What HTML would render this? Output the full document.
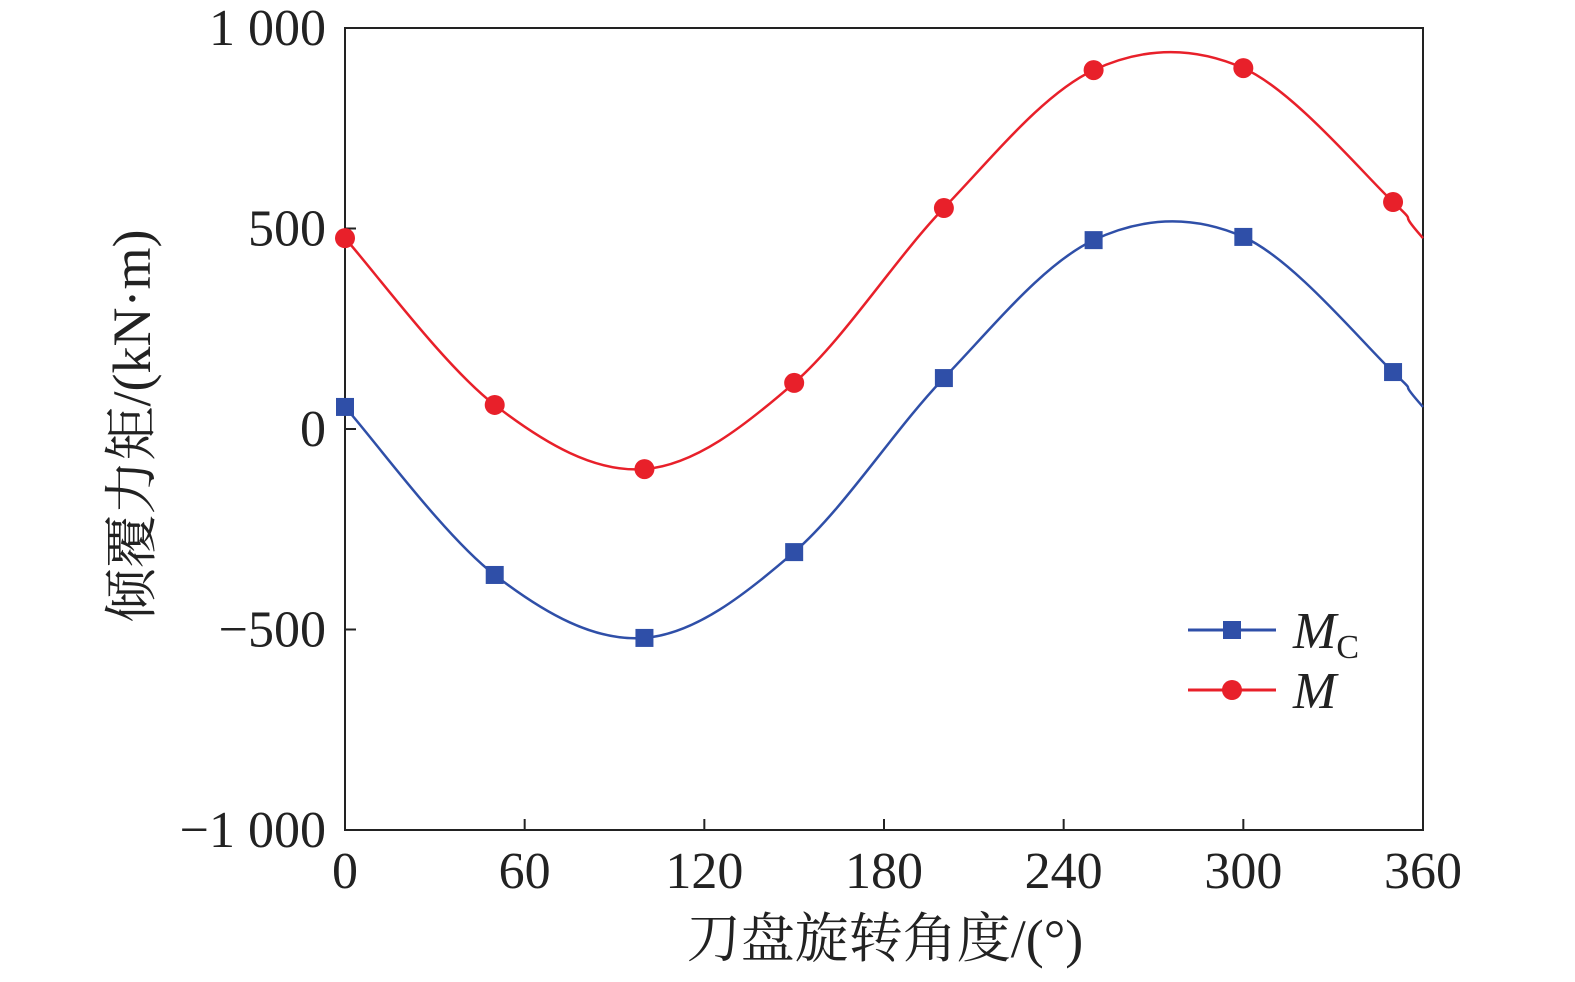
<!DOCTYPE html>
<html><head><meta charset="utf-8"><style>
body{margin:0;background:#fff}
text{font-family:"Liberation Serif","Noto Serif CJK SC",serif;fill:#222}
</style></head><body>
<svg width="1575" height="977">
<g id="axes"></g>
<g id="series"></g>
<g>
<line x1="1188" y1="630" x2="1276" y2="630" stroke="#2f4fa8" stroke-width="3"/>
<rect x="1223" y="621" width="18" height="18" fill="#2f4fa8"/>
<text x="1293" y="648" font-size="52" font-style="italic">M<tspan font-size="34" font-style="normal" dy="10">C</tspan></text>
<line x1="1188" y1="690" x2="1276" y2="690" stroke="#e8202a" stroke-width="3"/>
<circle cx="1232" cy="690" r="10" fill="#e8202a"/>
<text x="1293" y="708" font-size="52" font-style="italic">M</text>
</g>
<text x="885" y="957" font-size="54" text-anchor="middle">刀盘旋转角度/(°)</text>
<text transform="translate(150,426) rotate(-90)" font-size="54" text-anchor="middle">倾覆力矩/(kN·m)</text>
</svg>
<script>
const angles=[0,50,100,150,200,250,300,350];
const mValues=[476,60,-100,115,551,895,900,566];
const mcValues=[55,-364,-521,-307,127,471,479,142];
const xTicks=[0,60,120,180,240,300,360];
const yTicks=[-1000,-500,0,500,1000];
const yTickLabels=["\u22121 000","\u2212500","0","500","1 000"];
const X0=345,X1=1423,Y0=830,Y1=28;
const sx=v=>X0+(v-0)/360*(X1-X0);
const sy=v=>Y0-(v+1000)/2000*(Y0-Y1);
const NS="http://www.w3.org/2000/svg";
function mk(tag,attrs,parent){const e=document.createElementNS(NS,tag);for(const k in attrs)e.setAttribute(k,attrs[k]);parent.appendChild(e);return e;}
const ax=document.getElementById('axes');
const frame=mk('rect',{x:X0,y:Y1,width:X1-X0,height:Y0-Y1,fill:'none',stroke:'#222','stroke-width':2},ax);


xTicks.forEach(t=>{
 const l=mk('line',{x1:sx(t),x2:sx(t),y1:Y0,y2:Y0-11,stroke:'#222','stroke-width':2},ax);
 
 
 const tx=mk('text',{x:sx(t),y:Y0+58,'font-size':52,'text-anchor':'middle'},ax);
 tx.textContent=t;
 
 
});
yTicks.forEach((t,i)=>{
 const l=mk('line',{x1:X0,x2:X0+11,y1:sy(t),y2:sy(t),stroke:'#222','stroke-width':2},ax);
 
 
 const tx=mk('text',{x:X0-19,y:sy(t)+17,'font-size':52,'text-anchor':'end'},ax);
 tx.textContent=yTickLabels[i];
 
 
});
const sg=document.getElementById('series');
function curve(vals,color,name){
 const xs=angles.concat([360]);
 const ys=vals.concat([vals[0]]);
 const pts=xs.map((a,i)=>[sx(a),sy(ys[i])]);
 const n=pts.length;
 const get=i=>{if(i<0){return [pts[n-2][0]-(sx(360)-sx(0)),pts[n-2][1]];}if(i>=n){return [pts[1][0]+(sx(360)-sx(0)),pts[1][1]];}return pts[i];};
 let d='M'+pts[0][0]+','+pts[0][1];
 for(let i=0;i<n-1;i++){
  const p0=get(i-1),p1=get(i),p2=get(i+1),p3=get(i+2);
  const c1=[p1[0]+(p2[0]-p0[0])/6,p1[1]+(p2[1]-p0[1])/6];
  const c2=[p2[0]-(p3[0]-p1[0])/6,p2[1]-(p3[1]-p1[1])/6];
  d+=`C${c1[0]},${c1[1]} ${c2[0]},${c2[1]} ${p2[0]},${p2[1]}`;
 }
 const p=mk('path',{d:d,fill:'none',stroke:color,'stroke-width':2.5},sg);
 
 
}
curve(mValues,'#e8202a','m');
curve(mcValues,'#2f4fa8','mc');
angles.forEach((a,i)=>{
 const c=mk('circle',{cx:sx(a),cy:sy(mValues[i]),r:10,fill:'#e8202a'},sg);
 
 
 const r=mk('rect',{x:sx(a)-9,y:sy(mcValues[i])-9,width:18,height:18,fill:'#2f4fa8'},sg);
 
 
});
</script>
</body></html>
